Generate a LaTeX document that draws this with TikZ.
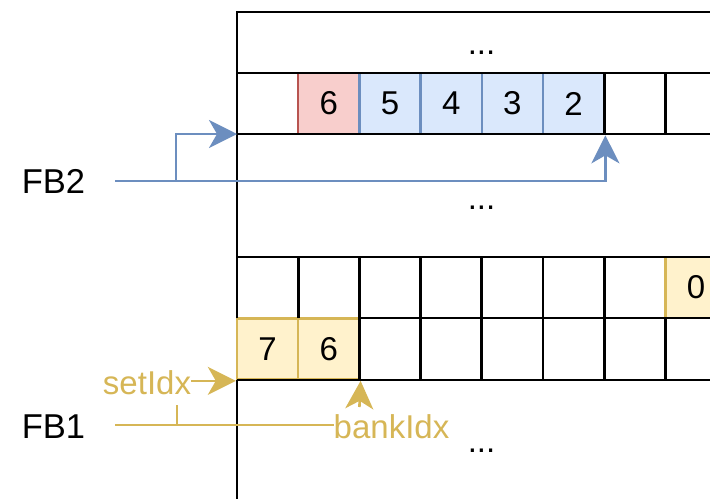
\documentclass[tikz,border=0pt]{standalone}
\usepackage{fontspec}
\setmainfont{Liberation Sans}
\usetikzlibrary{arrows.meta}
\definecolor{bstroke}{HTML}{6C8EBF}
\definecolor{bfill}{HTML}{DAE8FC}
\definecolor{rstroke}{HTML}{B85450}
\definecolor{rfill}{HTML}{F8CECC}
\definecolor{ystroke}{HTML}{D6B656}
\definecolor{yfill}{HTML}{FFF2CC}
\tikzset{
 cell/.style={minimum width=61.2pt, minimum height=61.3pt, inner sep=0pt, line width=2.4pt, font=\fontsize{33}{40}\selectfont},
 bluecell/.style={cell, draw=bstroke, fill=bfill},
 redcell/.style={cell, draw=rstroke, fill=rfill},
 yelcell/.style={cell, draw=ystroke, fill=yfill},
 gridline/.style={line width=2.8pt, draw=black},
 lbl/.style={font=\fontsize{33}{40}\selectfont, inner sep=0pt},
 biglbl/.style={font=\fontsize{34.5}{40}\selectfont, inner sep=0pt},
 tip/.style={-{Stealth[length=28pt,width=28pt,inset=8pt]}},
 bluewire/.style={line width=2.6pt, draw=bstroke},
 yelwire/.style={line width=2.6pt, draw=ystroke},
}
\begin{document}
\begin{tikzpicture}[x=1pt,y=-1pt]
\useasboundingbox (0,0) rectangle (710,499);
\clip (0,0) rectangle (710,499);
% coloured cells
\node[redcell] (c6a) at (328.8,103.5) {6};
\node[bluecell] (c5) at (390,103.5) {5};
\node[bluecell] (c4) at (451.2,103.5) {4};
\node[bluecell] (c3) at (512.4,103.5) {3};
\node[bluecell] (c2) at (573.6,103.5) {2};
\node[yelcell] (c0) at (696,287.5) {0};
\node[yelcell] (c7) at (267.6,349) {7};
\node[yelcell] (c6b) at (328.8,349) {6};
% grid
\draw[gridline] (710,12) -- (237,12) -- (237,318);
\draw[gridline] (237,380) -- (237,499);
\draw[gridline] (237,73) -- (710,73);
\draw[gridline] (237,134) -- (710,134);
\draw[gridline] (237,257) -- (710,257);
\draw[gridline] (359.4,318) -- (710,318);
\draw[gridline] (237,380) -- (710,380);
\foreach \x in {604.2,665.4} \draw[gridline] (\x,73) -- (\x,134);
\foreach \x in {298.2,359.4,420.6,481.8,543,604.2} \draw[gridline] (\x,257) -- (\x,318);
\foreach \x in {359.4,420.6,481.8,543,604.2,665.4} \draw[gridline] (\x,318) -- (\x,380);
% texts
\node[lbl] (dotsA) at (481.5,43.5) {\vphantom{0}...};
\node[lbl] (dotsB) at (481.5,198) {\vphantom{0}...};
\node[lbl] (dotsC) at (481.5,441) {\vphantom{0}...};
\node[biglbl] (fb2) at (53.5,181.5) {FB2};
\node[biglbl] (fb1) at (53.5,427) {FB1};
\node[lbl, text=ystroke] (setidx) at (147,383) {setIdx};
\node[lbl, text=ystroke] (bankidx) at (391.5,427) {bankIdx};
% FB2 wires
\coordinate (fb2s) at (115,181);
\coordinate (fb2br) at (176,181);
\coordinate (rowAsw) at (237,134);
\draw[bluewire, tip] (fb2s) -| (c2.south east);
\draw[bluewire, tip] (fb2br) |- (rowAsw);
% FB1 wires
\coordinate (fb1s) at (115,425);
\coordinate (fb1br) at (177,425);
\coordinate (setstub) at (177,405);
\coordinate (bankup) at (359.4,407);
\draw[yelwire] (fb1s) -- (bankidx.west |- fb1s);
\draw[yelwire] (fb1br) -- (setstub);
\draw[yelwire, tip] (setidx.east |- c7.south west) -- (c7.south west);
\draw[yelwire, tip] (bankup) -- (c6b.south east);
\end{tikzpicture}
\end{document}
